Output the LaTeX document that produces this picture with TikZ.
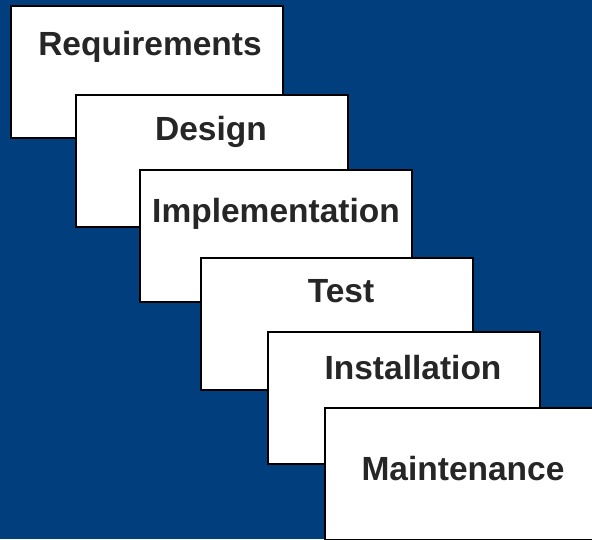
\documentclass[tikz,border=0pt]{standalone}
\usepackage{fontspec}
\setmainfont{Liberation Sans}
\definecolor{bgblue}{RGB}{0,62,126}
\begin{document}
\begin{tikzpicture}[x=1pt,y=-1pt,
  stagebox/.style={draw=black, fill=white, line width=2pt, rectangle,
    minimum width=272pt, minimum height=132pt, inner sep=0pt},
  stagetext/.style={anchor=base, inner sep=0pt, font=\bfseries\fontsize{33.5}{40}\selectfont, text={black!85}}]
\useasboundingbox (0,0) rectangle (592,539);
\clip (0,0) rectangle (592,539);
\fill[bgblue] (0,0) rectangle (592,539);
\node[stagebox] (req) at (147,72) {};
\node[stagetext] (reqt) at (150,55) {Requirements};
\node[stagebox] (des) at (211.5,160.5) {};
\node[stagetext] (dest) at (211,140) {Design};
\node[stagebox] (imp) at (275.5,235.5) {};
\node[stagetext] (impt) at (276,222) {Implementation};
\node[stagebox] (tst) at (336.5,323.5) {};
\node[stagetext] (tstt) at (341,302) {Test};
\node[stagebox] (ins) at (403.5,398) {};
\node[stagetext] (inst) at (413,379) {Installation};
\node[stagebox] (mnt) at (461,473.5) {};
\node[stagetext] (mntt) at (463,480) {Maintenance};
\end{tikzpicture}
\end{document}
